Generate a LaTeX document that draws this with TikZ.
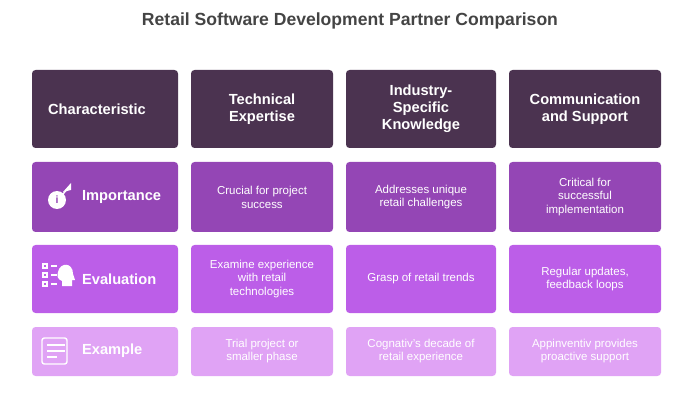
\documentclass[tikz,border=0pt]{standalone}
\usepackage{fontspec}
\setmainfont{Liberation Sans}
\definecolor{headc}{HTML}{4B3350}
\definecolor{impc}{HTML}{9446B5}
\definecolor{evalc}{HTML}{BC5EE8}
\definecolor{exc}{HTML}{E0A3F5}
\definecolor{titlec}{HTML}{444444}
\tikzset{
  cell/.style={rounded corners=3pt, draw=none, text=white, align=center, inner sep=0pt},
  headtext/.style={font=\bfseries\fontsize{12.5}{14.5}\selectfont, text=white, align=center},
  bodytext/.style={font=\fontsize{9.8}{11.8}\selectfont, text=white, align=center}
}
\begin{document}
\begin{tikzpicture}[x=0.03cm, y=-0.03cm]
\useasboundingbox (0,0) rectangle (700,400);
% title
\node[font=\bfseries\fontsize{15}{18}\selectfont, text=titlec] (title) at (350,21) {Retail Software Development Partner Comparison};
% rows of cells
\foreach \c/\y/\h in {headc/70/78, impc/162/70, evalc/245/68, exc/327/49}{
  \fill[rounded corners=3pt, fill=\c] (32,\y) rectangle ++(146,\h);
  \fill[rounded corners=3pt, fill=\c] (191,\y) rectangle ++(142,\h);
  \fill[rounded corners=3pt, fill=\c] (346,\y) rectangle ++(150,\h);
  \fill[rounded corners=3pt, fill=\c] (509,\y) rectangle ++(152,\h);
}
% header row
\node[headtext] (hchar) at (97,109) {Characteristic};
\node[headtext] (htech) at (262,109) {Technical\\Expertise};
\node[headtext] (hind) at (421,109) {Industry-\\Specific\\Knowledge};
\node[headtext] (hcomm) at (585,109) {Communication\\and Support};
% row labels
\node[headtext, anchor=west] (limp) at (78,197) {Importance};
\node[headtext, anchor=west] (leval) at (78,279) {Evaluation};
\node[headtext, anchor=west] (lex) at (78,351) {Example};
% icons
\fill[white] (57,200) circle (9);
\node[font=\bfseries\small, text=impc] (iinfo) at (57,200) {i};
\fill[white] (63,192) -- (71,183) -- (71,190) -- cycle;
\draw[white, line width=1.2pt] (63,194) -- (70,186);
\foreach \yy in {266,275,284}{
  \draw[white, line width=0.9pt] (43,\yy-2) rectangle ++(4,4);
  \draw[white, line width=0.9pt] (51,\yy) -- (57,\yy);
}
\fill[white] (58,272) .. controls (60,262) and (73,262) .. (73,274) -- (75,280) -- (72,280) -- (72,286) -- (62,286) -- (62,281) .. controls (57,279) and (57,276) .. (58,272) -- cycle;
\draw[white, line width=1.2pt, rounded corners=2pt] (42,338) rectangle (67,364);
\foreach \yy/\ll in {345/18,351/18,357/10}{
  \draw[white, line width=1.2pt] (47,\yy) -- ++(\ll,0);
}
% body text
\node[bodytext] (t1) at (262,197) {Crucial for project\\success};
\node[bodytext] (t2) at (421,197) {Addresses unique\\retail challenges};
\node[bodytext] (t3) at (585,197) {Critical for\\successful\\implementation};
\node[bodytext] (t4) at (262,279) {Examine experience\\with retail\\technologies};
\node[bodytext] (t5) at (421,279) {Grasp of retail trends};
\node[bodytext] (t6) at (585,279) {Regular updates,\\feedback loops};
\node[bodytext] (t7) at (262,351) {Trial project or\\smaller phase};
\node[bodytext] (t8) at (421,351) {Cognativ's decade of\\retail experience};
\node[bodytext] (t9) at (585,351) {Appinventiv provides\\proactive support};
\end{tikzpicture}
\end{document}
